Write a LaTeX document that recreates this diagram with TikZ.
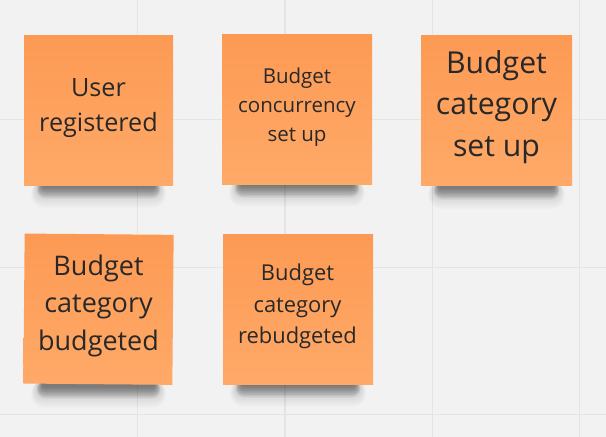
\documentclass[tikz,border=0pt]{standalone}
\usepackage{fontspec}
\setmainfont{Open Sans}
\definecolor{board}{RGB}{242,242,242}
\definecolor{gridgray}{RGB}{228,228,228}
\definecolor{notetop}{RGB}{252,154,84}
\definecolor{notebottom}{RGB}{255,169,104}
\definecolor{ink}{RGB}{40,40,40}
% centred lines with a fixed pitch; the box baseline is the first line's baseline
\newcommand\stickylines[1]{\vtop{\halign{\hfil##\hfil\cr#1\crcr}}}
\begin{document}
\begin{tikzpicture}[x=1pt,y=-1pt,
  sticky/.style={rectangle, inner sep=0pt, minimum width=149pt, minimum height=150pt,
    top color=notetop, bottom color=notebottom, draw=none},
  stickytext/.style={anchor=base, inner sep=0pt, text=ink},
  gridline/.style={draw=gridgray, line width=1.3pt}]

% board
\fill[board] (0,0) rectangle (606,437);
\useasboundingbox (0,0) rectangle (606,437);

% board grid
\foreach \gx in {137.3,285,432.3,579.8} \draw[gridline] (\gx,0) -- (\gx,437);
\foreach \gy in {119.5,267.3,414.3} \draw[gridline] (0,\gy) -- (606,\gy);

% soft shadows under the lifted bottom edges: a light wide haze and a darker core
\foreach \l/\r/\b in {24/173/185, 222/372/184, 421/572/186, 24/173/385, 223/373/384}{
  \foreach \k in {1,...,8}{
    \fill[black, opacity=0.018, rounded corners={\k*1.5pt+1pt}]
      (\l+15-\k, \b-4) rectangle (\r-15+\k, \b+5+\k*2.2);
  }
  \foreach \k in {1,...,9}{
    \fill[black, opacity=0.05, rounded corners={\k*0.9pt+1pt}]
      (\l+19-\k*0.7, \b-4) rectangle (\r-19+\k*0.7, \b+1+\k*1.4);
  }
}

% sticky notes
\node[sticky] (n1) at (98.5,110) {};
\node[sticky, minimum width=150pt] (n2) at (297,109) {};
\node[sticky, minimum width=151pt] (n3) at (496.5,110.5) {};
\node[sticky, rotate=-0.5] (n4) at (98.5,309.2) {};
\node[sticky, minimum width=150pt] (n5) at (298,309) {};

% note texts
\node[stickytext, font=\fontsize{25.2}{35}\selectfont] (t1) at (98.5,96.7)
  {\stickylines{User\cr registered}};
\node[stickytext, font=\fontsize{20.5}{29.2}\selectfont] (t2) at (297,83.3)
  {\stickylines{Budget\cr concurrency\cr set up}};
\node[stickytext, font=\fontsize{30.2}{41.4}\selectfont] (t3) at (496.5,73.3)
  {\stickylines{Budget\cr category\cr set up}};
\node[stickytext, font=\fontsize{27}{37.5}\selectfont] (t4) at (98.5,275)
  {\stickylines{Budget\cr category\cr budgeted}};
\node[stickytext, font=\fontsize{21.9}{31.3}\selectfont] (t5) at (297.5,280.7)
  {\stickylines{Budget\cr category\cr rebudgeted}};
\end{tikzpicture}
\end{document}
